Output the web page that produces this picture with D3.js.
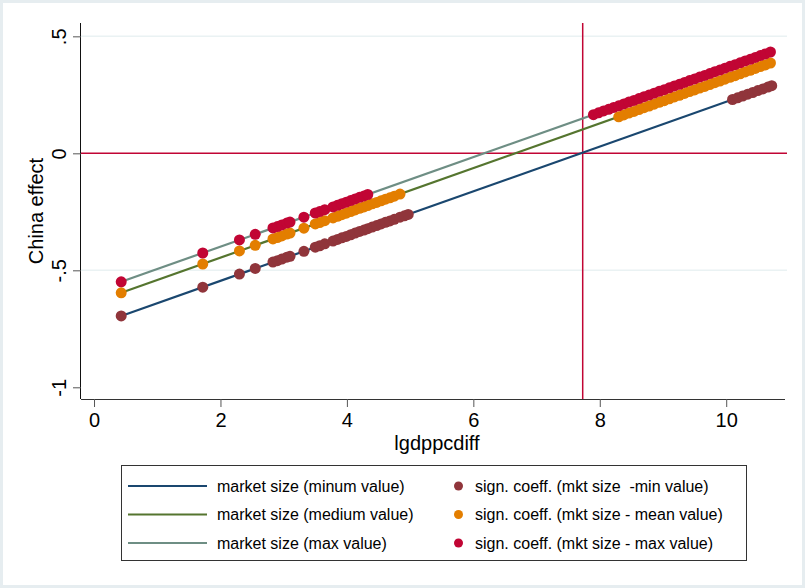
<!DOCTYPE html>
<html>
<head>
<meta charset="utf-8">
<script src="https://cdn.jsdelivr.net/npm/d3@7"></script>
<style>
  body { margin: 0; background: white; }
  text { font-family: "Liberation Sans", Arial, sans-serif; }
</style>
</head>
<body>
<div class="chart"></div>
<script>
// fitted lines (endpoints on lgdppcdiff)
const lineX = [0.43, 10.72];
const lineMin = [-0.695, 0.289];
const lineMed = [-0.596, 0.388];
const lineMax = [-0.549, 0.435];

// significant coefficients, mkt size min value
const minX = [0.43, 1.72, 2.30, 2.55, 2.83, 2.90, 2.97, 3.05, 3.10, 3.32, 3.50, 3.57, 3.65,
    3.78, 3.85, 3.92, 3.99, 4.06, 4.13, 4.20, 4.27, 4.33, 4.40, 4.47, 4.54, 4.61, 4.68, 4.75, 4.84, 4.91, 4.97,
    10.10, 10.18, 10.26, 10.34, 10.42, 10.50, 10.58, 10.66, 10.72];
const minY = [-0.695, -0.572, -0.516, -0.492, -0.465, -0.459, -0.452, -0.444, -0.440, -0.419, -0.401, -0.395, -0.387,
    -0.375, -0.368, -0.361, -0.355, -0.348, -0.341, -0.334, -0.328, -0.322, -0.315, -0.309, -0.302, -0.295, -0.289, -0.282, -0.273, -0.267, -0.261,
    0.230, 0.237, 0.245, 0.253, 0.260, 0.268, 0.275, 0.283, 0.289];

// significant coefficients, mkt size mean value
const medX = [0.43, 1.72, 2.30, 2.55, 2.83, 2.90, 2.97, 3.05, 3.10, 3.32, 3.50, 3.57, 3.65,
    3.78, 3.85, 3.92, 3.99, 4.06, 4.13, 4.20, 4.27, 4.33, 4.40, 4.47, 4.54, 4.61, 4.68, 4.75, 4.84,
    8.30, 8.38, 8.46, 8.54, 8.62, 8.70, 8.78, 8.86, 8.94, 9.02, 9.10, 9.18, 9.26, 9.34, 9.42, 9.50,
    9.58, 9.66, 9.74, 9.82, 9.90, 9.98, 10.06, 10.14, 10.22, 10.30, 10.38, 10.46, 10.54, 10.62, 10.70];
const medY = [-0.596, -0.473, -0.417, -0.393, -0.366, -0.360, -0.353, -0.345, -0.341, -0.320, -0.302, -0.296, -0.288,
    -0.276, -0.269, -0.262, -0.256, -0.249, -0.242, -0.235, -0.229, -0.223, -0.216, -0.210, -0.203, -0.196, -0.190, -0.183, -0.174,
    0.156, 0.164, 0.172, 0.179, 0.187, 0.195, 0.202, 0.210, 0.218, 0.225, 0.233, 0.241, 0.248, 0.256, 0.264, 0.271,
    0.279, 0.286, 0.294, 0.302, 0.309, 0.317, 0.325, 0.332, 0.340, 0.348, 0.355, 0.363, 0.371, 0.378, 0.386];

// significant coefficients, mkt size max value
const maxX = [0.43, 1.72, 2.30, 2.55, 2.83, 2.90, 2.97, 3.05, 3.10, 3.32, 3.50, 3.57, 3.65,
    3.78, 3.85, 3.92, 3.99, 4.06, 4.13, 4.20, 4.27, 4.33,
    7.90, 7.98, 8.06, 8.14, 8.22, 8.30, 8.38, 8.46, 8.54, 8.62, 8.70, 8.78, 8.86, 8.94, 9.02, 9.10, 9.18, 9.26,
    9.34, 9.42, 9.50, 9.58, 9.66, 9.74, 9.82, 9.90, 9.98, 10.06, 10.14, 10.22, 10.30, 10.38, 10.46, 10.54, 10.62, 10.70];
const maxY = [-0.549, -0.426, -0.370, -0.346, -0.319, -0.313, -0.306, -0.298, -0.294, -0.273, -0.255, -0.249, -0.241,
    -0.229, -0.222, -0.215, -0.209, -0.202, -0.195, -0.188, -0.182, -0.176,
    0.165, 0.173, 0.181, 0.188, 0.196, 0.203, 0.211, 0.219, 0.226, 0.234, 0.242, 0.249, 0.257, 0.265, 0.272, 0.280, 0.288, 0.295,
    0.303, 0.311, 0.318, 0.326, 0.333, 0.341, 0.349, 0.356, 0.364, 0.372, 0.379, 0.387, 0.395, 0.402, 0.410, 0.418, 0.425, 0.433];

const xTicks = [0, 2, 4, 6, 8, 10];
const yTicks = [-1, -0.5, 0, 0.5];
const yTickLabels = ['-1', '-.5', '0', '.5'];
const xRef = 7.73;
const yRef = 0;

const lineLabels = ['market size (minum value)', 'market size (medium value)', 'market size (max value)'];
const dotLabels = ['sign. coeff. (mkt size  -min value)', 'sign. coeff. (mkt size - mean value)', 'sign. coeff. (mkt size - max value)'];

const lineColors = ['#1a476f', '#55752f', '#6e8e84'];
const dotColors = ['#90353b', '#e37e00', '#c10534'];
const refColor = '#c10534';

const width = 805, height = 588;
const plot = ({left: 81, right: 785, top: 23, bottom: 399});

const svg = d3.select('.chart')
    .append('svg')
    .attr('width', width)
    .attr('height', height);

svg.append('rect')
    .attr('x', 1.5).attr('y', 1.5)
    .attr('width', width - 3).attr('height', height - 3)
    .attr('fill', 'white')
    .attr('stroke', '#e6edf0')
    .attr('stroke-width', 3);

const xScale = d3.scaleLinear()
    .domain([-0.206, 10.93])
    .range([plot.left, plot.right]);

const yScale = d3.scaleLinear()
    .domain([-1.05, 0.557])
    .range([plot.bottom, plot.top]);

// gridlines
svg.append('g')
    .selectAll('line')
    .data([-0.5, 0.5])
    .enter()
    .append('line')
    .attr('x1', plot.left).attr('x2', plot.right + 2)
    .attr('y1', d => yScale(d)).attr('y2', d => yScale(d))
    .attr('stroke', '#eaf2f3')
    .attr('stroke-width', 1.5);

// reference lines
svg.append('line')
    .attr('x1', plot.left).attr('x2', plot.right + 2)
    .attr('y1', yScale(yRef)).attr('y2', yScale(yRef))
    .attr('stroke', refColor)
    .attr('stroke-width', 1.5);

svg.append('line')
    .attr('x1', xScale(xRef)).attr('x2', xScale(xRef))
    .attr('y1', plot.top).attr('y2', plot.bottom)
    .attr('stroke', refColor)
    .attr('stroke-width', 1.5);

// axes
const xAxis = d3.axisBottom(xScale)
    .tickValues(xTicks)
    .tickSize(8)
    .tickPadding(6);

const yAxis = d3.axisLeft(yScale)
    .tickValues(yTicks)
    .tickFormat((d, i) => yTickLabels[i])
    .tickSize(8);

svg.append('g')
    .attr('class', 'axis x-axis')
    .attr('transform', 'translate(0,' + plot.bottom + ')')
    .call(xAxis)
    .call(g => g.select('.domain').attr('d', `M${plot.left},0.5H${plot.right}`).attr('stroke', '#333'))
    .call(g => g.selectAll('.tick line').attr('stroke', '#555'))
    .call(g => g.selectAll('.tick text')
        .attr('font-size', 20)
        .attr('fill', '#000')
        .attr('font-family', '"Liberation Sans", Arial, sans-serif'));

svg.append('g')
    .attr('class', 'axis y-axis')
    .attr('transform', 'translate(' + plot.left + ',0)')
    .call(yAxis)
    .call(g => g.select('.domain').attr('d', `M-0.5,${plot.top}V${plot.bottom}`).attr('stroke', '#111'))
    .call(g => g.selectAll('.tick line').attr('stroke', '#555'))
    .call(g => g.selectAll('.tick text')
        .attr('x', null).attr('dy', null)
        .attr('transform', 'translate(-15,0) rotate(-90)')
        .attr('text-anchor', 'middle')
        .attr('font-size', 20)
        .attr('fill', '#000')
        .attr('font-family', '"Liberation Sans", Arial, sans-serif'));

svg.append('text')
    .attr('x', (plot.left + plot.right) / 2 + 4)
    .attr('y', 450)
    .attr('text-anchor', 'middle')
    .attr('font-size', 20)
    .text('lgdppcdiff');

svg.append('text')
    .attr('transform', 'translate(43,' + ((plot.top + plot.bottom) / 2) + ') rotate(-90)')
    .attr('text-anchor', 'middle')
    .attr('font-size', 20)
    .text('China effect');

// fitted lines
const line = d3.line()
    .x(d => xScale(d[0]))
    .y(d => yScale(d[1]));

[lineMin, lineMed, lineMax].forEach((ys, i) => {
    svg.append('path')
        .datum(lineX.map((x, j) => [x, ys[j]]))
        .attr('d', line)
        .attr('fill', 'none')
        .attr('stroke', lineColors[i])
        .attr('stroke-width', 2.2);
});

// significant dots
[[minX, minY], [medX, medY], [maxX, maxY]].forEach(([xs, ys], i) => {
    svg.append('g')
        .selectAll('circle')
        .data(xs.map((x, j) => [x, ys[j]]))
        .enter()
        .append('circle')
        .attr('cx', d => xScale(d[0]))
        .attr('cy', d => yScale(d[1]))
        .attr('r', 5.5)
        .attr('fill', dotColors[i]);
});

// legend
const legend = svg.append('g');
legend.append('rect')
    .attr('x', 121.5).attr('y', 465.5)
    .attr('width', 625).attr('height', 95)
    .attr('fill', 'white')
    .attr('stroke', '#333')
    .attr('stroke-width', 1);

const rowY = [486, 514.5, 543];

legend.selectAll('.leg-line')
    .data(lineLabels)
    .enter()
    .append('line')
    .attr('x1', 128).attr('x2', 207)
    .attr('y1', (d, i) => rowY[i]).attr('y2', (d, i) => rowY[i])
    .attr('stroke', (d, i) => lineColors[i])
    .attr('stroke-width', 2);

legend.selectAll('.leg-line-text')
    .data(lineLabels)
    .enter()
    .append('text')
    .attr('x', 217)
    .attr('y', (d, i) => rowY[i])
    .attr('dy', '0.35em')
    .attr('font-size', 16)
    .text(d => d);

legend.selectAll('.leg-dot')
    .data(dotLabels)
    .enter()
    .append('circle')
    .attr('cx', 458.5)
    .attr('cy', (d, i) => rowY[i])
    .attr('r', 4.5)
    .attr('fill', (d, i) => dotColors[i]);

legend.selectAll('.leg-dot-text')
    .data(dotLabels)
    .enter()
    .append('text')
    .attr('x', 475)
    .attr('y', (d, i) => rowY[i])
    .attr('dy', '0.35em')
    .attr('font-size', 16)
    .attr('xml:space', 'preserve')
    .style('white-space', 'pre')
    .text(d => d);
</script>
</body>
</html>
